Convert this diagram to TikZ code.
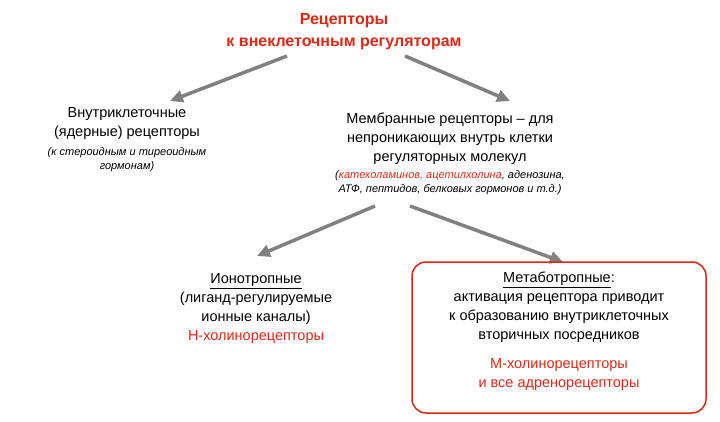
\documentclass[tikz,border=0pt]{standalone}
\usepackage{fontspec}
\setmainfont{Liberation Sans}
\usetikzlibrary{arrows.meta}
\definecolor{rd}{RGB}{220,40,20}
\definecolor{ar}{RGB}{128,128,128}
\begin{document}
\begin{tikzpicture}[x=1pt,y=-1pt,
 txt/.style={align=center,font=\fontsize{14.5}{19}\selectfont,inner sep=0},
 sml/.style={align=center,font=\fontsize{11}{14}\selectfont\itshape,inner sep=0},
 arr/.style={draw=ar,line width=3.5pt,-{Triangle[length=13pt,width=12pt]}}]
\useasboundingbox (0,0) rectangle (720,422);
\node[txt,text=rd,font=\fontsize{16}{22}\selectfont\bfseries] (t) at (344,32) {Рецепторы\\к внеклеточным регуляторам};
\node[txt] (l) at (127,124) {Внутриклеточные\\(ядерные) рецепторы};
\node[sml] (ls) at (127,160) {(к стероидным и тиреоидным\\гормонам)};
\node[txt] (r) at (450,139) {Мембранные рецепторы – для\\непроникающих внутрь клетки\\регуляторных молекул};
\node[sml] (rs) at (450,183) {(\textcolor{rd}{катехоламинов, ацетилхолина}, аденозина,\\АТФ, пептидов, белковых гормонов и т.д.)};
\draw[arr] (287,56) -- (170,101);
\draw[arr] (405,56) -- (510,101);
\draw[arr] (375,206) -- (257,256);
\draw[arr] (410,206) -- (563,262);
\node[txt] (io) at (256,309) {\underline{Ионотропные}\\(лиганд-регулируемые\\ионные каналы)\\\textcolor{rd}{Н-холинорецепторы}};
\draw[rd,line width=1.5pt,rounded corners=14pt] (412,262) rectangle (706,413);
\node[txt] (me) at (559,307) {\underline{Метаботропные}:\\активация рецептора приводит\\к образованию внутриклеточных\\вторичных посредников};
\node[txt,text=rd] (mh) at (559,375) {М-холинорецепторы\\и все адренорецепторы};
\end{tikzpicture}
\end{document}
